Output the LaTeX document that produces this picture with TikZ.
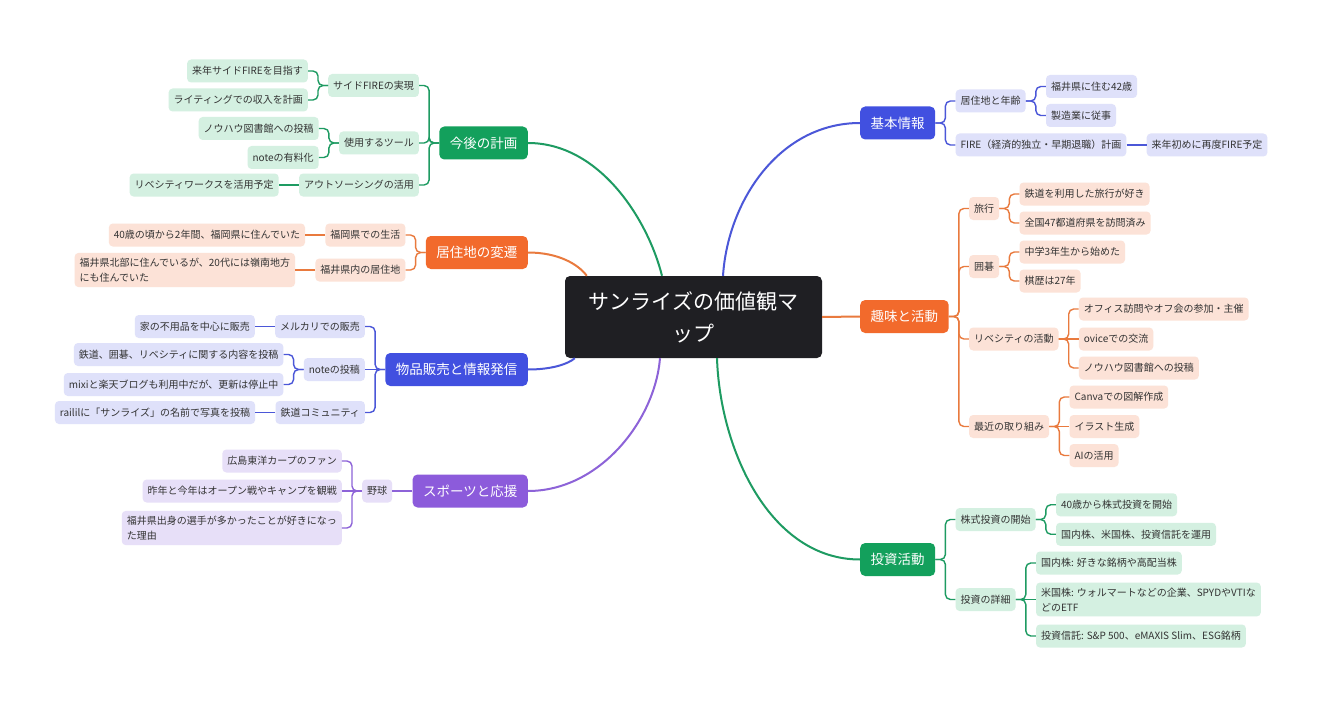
\documentclass[tikz,border=0pt]{standalone}
\usepackage{fontspec}
\setmainfont{Noto Sans CJK JP}
\usetikzlibrary{positioning}
\definecolor{rootc}{HTML}{1F1F23}
\definecolor{grn}{HTML}{13A05C}
\definecolor{grnlt}{HTML}{D4F0E1}
\definecolor{grnln}{HTML}{1E9B62}
\definecolor{org}{HTML}{F26A2C}
\definecolor{orglt}{HTML}{FCE2D7}
\definecolor{orgln}{HTML}{E97A3E}
\definecolor{blu}{HTML}{4150E0}
\definecolor{blult}{HTML}{DFE1FA}
\definecolor{bluln}{HTML}{4B57D8}
\definecolor{pur}{HTML}{8C5BDB}
\definecolor{purlt}{HTML}{E7DFF8}
\definecolor{purln}{HTML}{8D63D8}
\definecolor{txt}{HTML}{333333}
\tikzset{
    root/.style={
           fill=rootc, rounded corners=5pt,
           text=white, align=center,
           font=\fontsize{21}{32}\selectfont,
           minimum width=257pt, minimum height=82pt,
           },
    topic/.style={
           fill=#1, rounded corners=5pt,
           text=white,
           font=\fontsize{13.5}{16}\selectfont,
           minimum height=33pt, inner xsep=10.5pt,
           },
    leaf/.style={
           fill=#1, rounded corners=4pt,
           text=txt, align=left,
           font=\fontsize{10}{15}\selectfont,
           minimum height=23pt, inner xsep=5pt, inner ysep=5pt,
           },
    link/.style={draw=#1, line width=1.4pt, rounded corners=5pt},
    branch/.style={draw=#1, line width=2pt},
}

\begin{document}
\begin{tikzpicture}[x=1pt,y=-1pt]
\fill[white] (0,0) rectangle (1320,706);
\useasboundingbox (0,0) rectangle (1320,706);

\node[root] (root) at (693.5,317) {サンライズの価値観マ\\ップ};

% main topics
\node[topic=grn, anchor=east] (plan) at (528,143) {今後の計画};
\node[topic=org, anchor=east] (resid) at (528,252.5) {居住地の変遷};
\node[topic=blu, anchor=east] (sales) at (528,369.5) {物品販売と情報発信};
\node[topic=pur, anchor=east] (sports) at (528,491) {スポーツと応援};
\node[topic=blu, anchor=west] (basic) at (860,123) {基本情報};
\node[topic=org, anchor=west] (hobby) at (860,316.5) {趣味と活動};
\node[topic=grn, anchor=west] (invest) at (860,559.5) {投資活動};

\draw[branch=grnln] (plan.east) .. controls (600,143) and (648,220) .. ([xshift=-31.5pt]root.north);
\draw[branch=orgln] (resid.east) .. controls (558,252.5) and (578,264) .. ([xshift=22pt]root.north west);
\draw[branch=bluln] (sales.east) .. controls (552,369.5) and (568,364) .. ([xshift=10pt]root.south west);
\draw[branch=purln] (sports.east) .. controls (600,491) and (655,420) .. ([xshift=-33.5pt]root.south);
\draw[branch=bluln] (basic.west) .. controls (780,123) and (728,200) .. ([xshift=29.5pt]root.north);
\draw[branch=orgln] (root.east) -- (hobby.west);
\draw[branch=grnln] (invest.west) .. controls (770,559.5) and (720,450) .. ([xshift=23.5pt]root.south);

% plan
\node[leaf=grnlt, left=20pt of plan, yshift=57.5pt] (side) {サイドFIREの実現};
\node[leaf=grnlt, left=20pt of plan] (tools) {使用するツール};
\node[leaf=grnlt, left=20pt of plan, yshift=-42pt] (outs) {アウトソーシングの活用};
\node[leaf=grnlt, left=20pt of side, yshift=14.5pt] (sgoal) {来年サイドFIREを目指す};
\node[leaf=grnlt, left=20pt of side, yshift=-14.5pt] (swrite) {ライティングでの収入を計画};
\node[leaf=grnlt, left=20pt of tools, yshift=14.5pt] (tlib) {ノウハウ図書館への投稿};
\node[leaf=grnlt, left=20pt of tools, yshift=-14.5pt] (tnote) {noteの有料化};
\node[leaf=grnlt, left=20pt of outs] (owork) {リベシティワークスを活用予定};
\draw[link=grnln] (plan.west) -- ++(-10pt,0) |- (side.east);
\draw[link=grnln] (plan.west) -- ++(-10pt,0) |- (tools.east);
\draw[link=grnln] (plan.west) -- ++(-10pt,0) |- (outs.east);
\draw[link=grnln] (side.west) -- ++(-10pt,0) |- (sgoal.east);
\draw[link=grnln] (side.west) -- ++(-10pt,0) |- (swrite.east);
\draw[link=grnln] (tools.west) -- ++(-10pt,0) |- (tlib.east);
\draw[link=grnln] (tools.west) -- ++(-10pt,0) |- (tnote.east);
\draw[link=grnln] (outs.west) -- (owork.east);

% resid
\node[leaf=orglt, left=20pt of resid, yshift=17.5pt] (fuk) {福岡県での生活};
\node[leaf=orglt, left=20pt of resid, yshift=-17.5pt] (fui) {福井県内の居住地};
\node[leaf=orglt, left=20pt of fuk] (fukx) {40歳の頃から2年間、福岡県に住んでいた};
\node[leaf=orglt, left=20pt of fui] (fuix) {福井県北部に住んでいるが、20代には嶺南地方\\にも住んでいた};
\draw[link=orgln] (resid.west) -- ++(-10pt,0) |- (fuk.east);
\draw[link=orgln] (resid.west) -- ++(-10pt,0) |- (fui.east);
\draw[link=orgln] (fuk.west) -- (fukx.east);
\draw[link=orgln] (fui.west) -- (fuix.east);

% sales
\node[leaf=blult, left=20pt of sales, yshift=43pt] (merc) {メルカリでの販売};
\node[leaf=blult, left=20pt of sales] (notep) {noteの投稿};
\node[leaf=blult, left=20pt of sales, yshift=-43pt] (rail) {鉄道コミュニティ};
\node[leaf=blult, left=20pt of merc] (mercx) {家の不用品を中心に販売};
\node[leaf=blult, left=20pt of notep, yshift=15pt] (notea) {鉄道、囲碁、リベシティに関する内容を投稿};
\node[leaf=blult, left=20pt of notep, yshift=-15pt] (noteb) {mixiと楽天ブログも利用中だが、更新は停止中};
\node[leaf=blult, left=20pt of rail] (railx) {raililに「サンライズ」の名前で写真を投稿};
\draw[link=bluln] (sales.west) -- ++(-10pt,0) |- (merc.east);
\draw[link=bluln] (sales.west) -- (notep.east);
\draw[link=bluln] (sales.west) -- ++(-10pt,0) |- (rail.east);
\draw[link=bluln] (merc.west) -- (mercx.east);
\draw[link=bluln] (notep.west) -- ++(-10pt,0) |- (notea.east);
\draw[link=bluln] (notep.west) -- ++(-10pt,0) |- (noteb.east);
\draw[link=bluln] (rail.west) -- (railx.east);

% sports
\node[leaf=purlt, left=20pt of sports] (ball) {野球};
\node[leaf=purlt, left=20pt of ball, yshift=30pt] (carp) {広島東洋カープのファン};
\node[leaf=purlt, left=20pt of ball] (camp) {昨年と今年はオープン戦やキャンプを観戦};
\node[leaf=purlt, left=20pt of ball, yshift=-37pt] (why) {福井県出身の選手が多かったことが好きになっ\\た理由};
\draw[link=purln] (sports.west) -- (ball.east);
\draw[link=purln] (ball.west) -- ++(-10pt,0) |- (carp.east);
\draw[link=purln] (ball.west) -- (camp.east);
\draw[link=purln] (ball.west) -- ++(-10pt,0) |- (why.east);

% basic
\node[leaf=blult, right=20pt of basic, yshift=22pt] (live) {居住地と年齢};
\node[leaf=blult, right=20pt of basic, yshift=-22pt] (fire) {FIRE（経済的独立・早期退職）計画};
\node[leaf=blult, right=20pt of live, yshift=14.5pt] (age) {福井県に住む42歳};
\node[leaf=blult, right=20pt of live, yshift=-14.5pt] (job) {製造業に従事};
\node[leaf=blult, right=20pt of fire] (again) {来年初めに再度FIRE予定};
\draw[link=bluln] (basic.east) -- ++(10pt,0) |- (live.west);
\draw[link=bluln] (basic.east) -- ++(10pt,0) |- (fire.west);
\draw[link=bluln] (live.east) -- ++(10pt,0) |- (age.west);
\draw[link=bluln] (live.east) -- ++(10pt,0) |- (job.west);
\draw[link=bluln] (fire.east) -- (again.west);

% hobby
\node[leaf=orglt, right=20pt of hobby, yshift=108pt] (trip) {旅行};
\node[leaf=orglt, right=20pt of hobby, yshift=50pt] (igo) {囲碁};
\node[leaf=orglt, right=20pt of hobby, yshift=-22.5pt] (libe) {リベシティの活動};
\node[leaf=orglt, right=20pt of hobby, yshift=-110pt] (now) {最近の取り組み};
\node[leaf=orglt, right=20pt of trip, yshift=14.5pt] (tripa) {鉄道を利用した旅行が好き};
\node[leaf=orglt, right=20pt of trip, yshift=-14.5pt] (tripb) {全国47都道府県を訪問済み};
\node[leaf=orglt, right=20pt of igo, yshift=14.5pt] (igoa) {中学3年生から始めた};
\node[leaf=orglt, right=20pt of igo, yshift=-14.5pt] (igob) {棋歴は27年};
\node[leaf=orglt, right=20pt of libe, yshift=30pt] (libea) {オフィス訪問やオフ会の参加・主催};
\node[leaf=orglt, right=20pt of libe] (libeb) {oviceでの交流};
\node[leaf=orglt, right=20pt of libe, yshift=-29pt] (libec) {ノウハウ図書館への投稿};
\node[leaf=orglt, right=20pt of now, yshift=29.5pt] (nowa) {Canvaでの図解作成};
\node[leaf=orglt, right=20pt of now] (nowb) {イラスト生成};
\node[leaf=orglt, right=20pt of now, yshift=-29pt] (nowc) {AIの活用};
\draw[link=orgln] (hobby.east) -- ++(10pt,0) |- (trip.west);
\draw[link=orgln] (hobby.east) -- ++(10pt,0) |- (igo.west);
\draw[link=orgln] (hobby.east) -- ++(10pt,0) |- (libe.west);
\draw[link=orgln] (hobby.east) -- ++(10pt,0) |- (now.west);
\draw[link=orgln] (trip.east) -- ++(10pt,0) |- (tripa.west);
\draw[link=orgln] (trip.east) -- ++(10pt,0) |- (tripb.west);
\draw[link=orgln] (igo.east) -- ++(10pt,0) |- (igoa.west);
\draw[link=orgln] (igo.east) -- ++(10pt,0) |- (igob.west);
\draw[link=orgln] (libe.east) -- ++(10pt,0) |- (libea.west);
\draw[link=orgln] (libe.east) -- (libeb.west);
\draw[link=orgln] (libe.east) -- ++(10pt,0) |- (libec.west);
\draw[link=orgln] (now.east) -- ++(10pt,0) |- (nowa.west);
\draw[link=orgln] (now.east) -- (nowb.west);
\draw[link=orgln] (now.east) -- ++(10pt,0) |- (nowc.west);

% invest
\node[leaf=grnlt, right=20pt of invest, yshift=40pt] (stock) {株式投資の開始};
\node[leaf=grnlt, right=20pt of invest, yshift=-40pt] (detail) {投資の詳細};
\node[leaf=grnlt, right=20pt of stock, yshift=14.75pt] (stocka) {40歳から株式投資を開始};
\node[leaf=grnlt, right=20pt of stock, yshift=-14.75pt] (stockb) {国内株、米国株、投資信託を運用};
\node[leaf=grnlt, right=20pt of detail, yshift=36.5pt] (jp) {国内株: 好きな銘柄や高配当株};
\node[leaf=grnlt, right=20pt of detail] (us) {米国株: ウォルマートなどの企業、SPYDやVTIな\\どのETF};
\node[leaf=grnlt, right=20pt of detail, yshift=-36.5pt] (fund) {投資信託: S\&P 500、eMAXIS Slim、ESG銘柄};
\draw[link=grnln] (invest.east) -- ++(10pt,0) |- (stock.west);
\draw[link=grnln] (invest.east) -- ++(10pt,0) |- (detail.west);
\draw[link=grnln] (stock.east) -- ++(10pt,0) |- (stocka.west);
\draw[link=grnln] (stock.east) -- ++(10pt,0) |- (stockb.west);
\draw[link=grnln] (detail.east) -- ++(10pt,0) |- (jp.west);
\draw[link=grnln] (detail.east) -- (us.west);
\draw[link=grnln] (detail.east) -- ++(10pt,0) |- (fund.west);
\end{tikzpicture}
\end{document}
